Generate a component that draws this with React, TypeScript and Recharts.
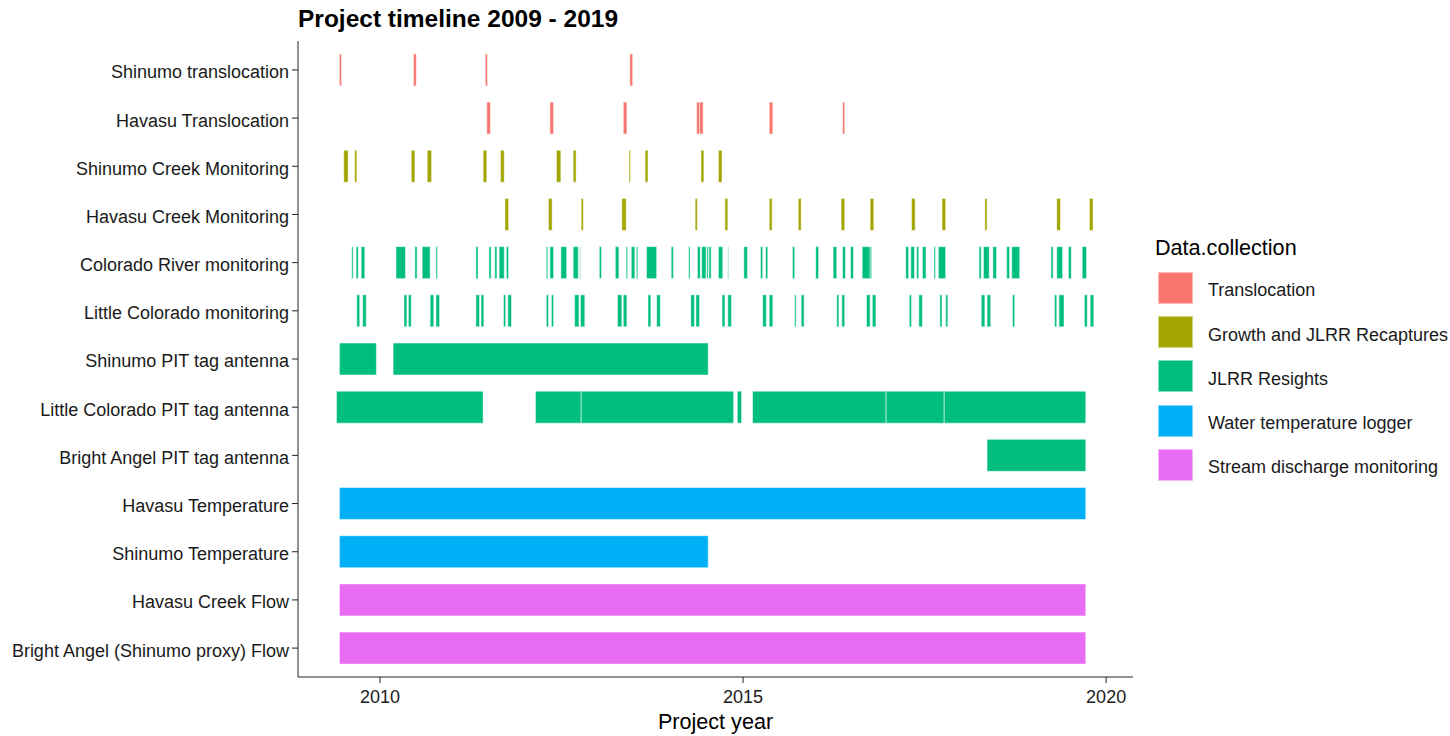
import { ScatterChart, Scatter, XAxis, YAxis, ReferenceArea } from "recharts";

// legend categories (ggplot default hue palette)
const categories = [
  "Translocation",
  "Growth and JLRR Recaptures",
  "JLRR Resights",
  "Water temperature logger",
  "Stream discharge monitoring",
];
const categoryColors = ["#F8766D", "#A3A500", "#00BF7D", "#00B0F6", "#E76BF3"];

// rows, top to bottom
const rowLabels = [
  "Shinumo translocation",
  "Havasu Translocation",
  "Shinumo Creek Monitoring",
  "Havasu Creek Monitoring",
  "Colorado River monitoring",
  "Little Colorado monitoring",
  "Shinumo PIT tag antenna",
  "Little Colorado PIT tag antenna",
  "Bright Angel PIT tag antenna",
  "Havasu Temperature",
  "Shinumo Temperature",
  "Havasu Creek Flow",
  "Bright Angel (Shinumo proxy) Flow",
];
const rowCategory = [0, 0, 1, 1, 2, 2, 2, 2, 2, 3, 3, 4, 4];

// [start, end] in decimal years
const shinumoTranslocation = [
  [2009.44, 2009.47], [2010.46, 2010.5], [2011.45, 2011.48], [2013.44, 2013.48],
];
const havasuTranslocation = [
  [2011.47, 2011.52], [2012.34, 2012.39], [2013.35, 2013.4], [2014.36, 2014.4],
  [2014.4, 2014.45], [2015.36, 2015.41], [2016.37, 2016.4],
];
const shinumoMonitoring = [
  [2009.5, 2009.56], [2009.65, 2009.68], [2010.43, 2010.48], [2010.65, 2010.71],
  [2011.42, 2011.47], [2011.66, 2011.71], [2012.43, 2012.49], [2012.66, 2012.7],
  [2013.43, 2013.45], [2013.65, 2013.69], [2014.42, 2014.46], [2014.66, 2014.71],
];
const havasuMonitoring = [
  [2011.72, 2011.77], [2012.32, 2012.37], [2012.77, 2012.8], [2013.33, 2013.39],
  [2014.34, 2014.37], [2014.75, 2014.79], [2015.36, 2015.4], [2015.76, 2015.8],
  [2016.35, 2016.4], [2016.75, 2016.8], [2017.32, 2017.37], [2017.74, 2017.79],
  [2018.33, 2018.36], [2019.32, 2019.37], [2019.77, 2019.82],
];
const coloradoMonitoring = [
  [2009.61, 2009.63], [2009.67, 2009.7], [2009.74, 2009.79], [2010.22, 2010.35],
  [2010.48, 2010.51], [2010.58, 2010.69], [2010.77, 2010.79], [2011.32, 2011.35],
  [2011.5, 2011.53], [2011.58, 2011.61], [2011.64, 2011.71], [2011.74, 2011.77],
  [2012.29, 2012.31], [2012.34, 2012.39], [2012.49, 2012.57], [2012.66, 2012.73],
  [2012.75, 2012.76], [2013.02, 2013.05], [2013.24, 2013.29], [2013.39, 2013.41],
  [2013.46, 2013.51], [2013.53, 2013.55], [2013.67, 2013.81], [2014.01, 2014.04],
  [2014.25, 2014.27], [2014.37, 2014.41], [2014.43, 2014.49], [2014.5, 2014.52],
  [2014.53, 2014.56], [2014.66, 2014.72], [2014.79, 2014.8], [2015.01, 2015.06],
  [2015.24, 2015.27], [2015.31, 2015.34], [2015.68, 2015.71], [2016.0, 2016.04],
  [2016.24, 2016.29], [2016.37, 2016.41], [2016.48, 2016.52], [2016.64, 2016.75],
  [2016.75, 2016.77], [2017.24, 2017.28], [2017.31, 2017.36], [2017.39, 2017.42],
  [2017.47, 2017.52], [2017.63, 2017.65], [2017.69, 2017.79], [2018.25, 2018.28],
  [2018.31, 2018.39], [2018.44, 2018.49], [2018.63, 2018.67], [2018.7, 2018.81],
  [2019.24, 2019.27], [2019.32, 2019.4], [2019.48, 2019.52], [2019.67, 2019.73],
];
const littleColoradoMonitoring = [
  [2009.68, 2009.72], [2009.76, 2009.81], [2010.33, 2010.37], [2010.39, 2010.43],
  [2010.69, 2010.74], [2010.77, 2010.82], [2011.32, 2011.37], [2011.39, 2011.43],
  [2011.7, 2011.73], [2011.76, 2011.81], [2012.29, 2012.32], [2012.36, 2012.39],
  [2012.68, 2012.74], [2012.76, 2012.82], [2013.27, 2013.33], [2013.35, 2013.4],
  [2013.69, 2013.73], [2013.81, 2013.86], [2014.28, 2014.33], [2014.35, 2014.4],
  [2014.71, 2014.75], [2014.79, 2014.84], [2015.27, 2015.32], [2015.36, 2015.41],
  [2015.71, 2015.73], [2015.8, 2015.84], [2016.29, 2016.32], [2016.36, 2016.4],
  [2016.7, 2016.75], [2016.78, 2016.83], [2017.29, 2017.32], [2017.42, 2017.47],
  [2017.71, 2017.74], [2017.79, 2017.82], [2018.28, 2018.33], [2018.36, 2018.41],
  [2018.71, 2018.74], [2019.29, 2019.32], [2019.35, 2019.42], [2019.7, 2019.74],
  [2019.78, 2019.83],
];
const shinumoAntenna = [[2009.44, 2009.95], [2010.18, 2014.52]];
const littleColoradoAntenna = [
  [2009.4, 2011.42], [2012.14, 2012.77], [2012.77, 2014.87], [2014.92, 2014.98],
  [2015.13, 2016.97], [2016.97, 2017.77], [2017.77, 2019.72],
];
const brightAngelAntenna = [[2018.36, 2019.72]];
const havasuTemperature = [[2009.44, 2019.72]];
const shinumoTemperature = [[2009.44, 2014.52]];
const havasuFlow = [[2009.44, 2019.72]];
const brightAngelFlow = [[2009.44, 2019.72]];

const rowSegments = [
  shinumoTranslocation, havasuTranslocation, shinumoMonitoring, havasuMonitoring,
  coloradoMonitoring, littleColoradoMonitoring, shinumoAntenna, littleColoradoAntenna,
  brightAngelAntenna, havasuTemperature, shinumoTemperature, havasuFlow, brightAngelFlow,
];

const xTicks = [2010, 2015, 2020];
const yTicks = rowLabels.map((_, i) => i + 1);

// segment start points, only so the axes have data to work from
const startPoints = rowSegments.flatMap((segs, r) => segs.map(([s]) => ({ x: s, y: r + 1 })));

const font = "'Liberation Sans', Arial, sans-serif";

const RowTick = ({ x, y, payload }: any) => (
  <text x={x} y={y} dy="0.47em" textAnchor="end" fill="#1a1a1a" fontSize={18}>
    {rowLabels[payload.value - 1]}
  </text>
);

export default function App() {
  return (
    <div style={{ position: "absolute", left: 0, top: 0, width: 1450, height: 736, background: "#fff", fontFamily: font }}>
      <div style={{ position: "absolute", left: 298, top: 7, fontSize: 24.5, lineHeight: 1, fontWeight: "bold", color: "#000" }}>
        Project timeline 2009 - 2019
      </div>
      <ScatterChart width={1450} height={736} margin={{ top: 41, right: 317, bottom: 0, left: 0 }}>
        <XAxis
          type="number"
          dataKey="x"
          domain={[2008.87, 2020.37]}
          ticks={xTicks}
          allowDataOverflow
          height={59}
          tickSize={6}
          tickMargin={7}
          stroke="#222"
          tick={{ fill: "#1a1a1a", fontSize: 18 }}
          label={{ value: "Project year", position: "insideBottom", offset: 7, fontSize: 21.6, fill: "#000" }}
        />
        <YAxis
          type="number"
          dataKey="y"
          domain={[0.4, 13.6]}
          reversed
          allowDataOverflow
          ticks={yTicks}
          interval={0}
          width={298}
          tickSize={6}
          tickMargin={3}
          stroke="#222"
          tick={<RowTick />}
        />
        <Scatter data={startPoints} isAnimationActive={false} shape={() => <g />} />
        {rowSegments.flatMap((segs, r) =>
          segs.map(([s, e], k) => (
            <ReferenceArea
              key={`${r}-${k}`}
              x1={s}
              x2={e}
              y1={r + 1 - 0.332}
              y2={r + 1 + 0.332}
              fill={categoryColors[rowCategory[r]]}
              fillOpacity={1}
              stroke="#ffffff"
              strokeOpacity={0.5}
              strokeWidth={1}
            />
          ))
        )}
      </ScatterChart>
      <div style={{ position: "absolute", left: 1155, top: 236.7, fontSize: 21.6, lineHeight: 1, color: "#000" }}>
        Data.collection
      </div>
      {categories.map((c, i) => (
        <div
          key={c}
          style={{ position: "absolute", left: 1158, top: 271.7 + i * 44.3, height: 32, display: "flex", alignItems: "center" }}
        >
          <div
            style={{
              width: 35,
              height: 32,
              boxSizing: "border-box",
              background: categoryColors[i],
              border: "1px solid rgba(255,255,255,0.5)",
            }}
          />
          <span style={{ marginLeft: 15, fontSize: 18, color: "#1a1a1a", whiteSpace: "nowrap", position: "relative", top: 3 }}>{c}</span>
        </div>
      ))}
    </div>
  );
}
